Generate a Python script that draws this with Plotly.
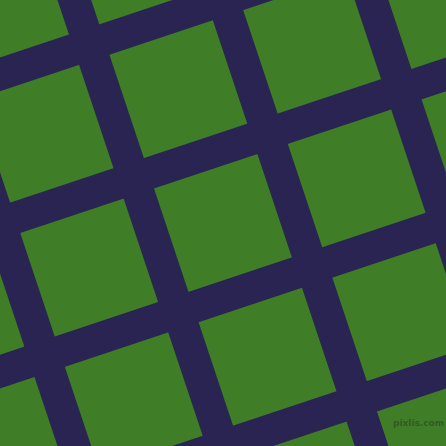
import math
import plotly.graph_objects as go

# Pattern data
grid_angle_deg = 18.435          # rotation of the grid (tan = 1/3)
band_pitch = 141.03               # distance between band centre lines
band_width = 32.0                 # perpendicular band thickness
vertical_band_centres = [-70.5, 70.5, 211.5, 352.5, 493.5]
horizontal_band_centres = [-70.5, 70.5, 211.5, 352.5, 493.5]

green = "#3f7e27"
navy = "#2a2452"

th = math.radians(grid_angle_deg)
c, s = math.cos(th), math.sin(th)
# vertical-ish family: normal n1, direction t1
n1, t1 = (c, -s), (s, c)
# horizontal-ish family: normal n2, direction t2
n2, t2 = (s, c), (c, -s)

def band_polys(centres, n, t):
    xs, ys = [], []
    L = 1200
    h = band_width / 2
    for cc in centres:
        pts = []
        for off, sl in [(-h, -L), (-h, L), (h, L), (h, -L)]:
            d = cc + off
            pts.append((d * n[0] + sl * t[0], d * n[1] + sl * t[1]))
        pts.append(pts[0])
        for px, py in pts:
            xs.append(px); ys.append(py)
        xs.append(None); ys.append(None)
    return xs, ys

fig = go.Figure()
for centres, n, t in [(vertical_band_centres, n1, t1), (horizontal_band_centres, n2, t2)]:
    xs, ys = band_polys(centres, n, t)
    fig.add_trace(go.Scatter(x=xs, y=ys, mode="lines", fill="toself",
                             fillcolor=navy, line=dict(width=0, color=navy),
                             hoverinfo="skip", showlegend=False))

fig.add_annotation(x=418, y=423, xref="x", yref="y", text="<b>pixlis.com</b>",
                   showarrow=False, font=dict(family="DejaVu Sans", size=9, color="#33592a"))

fig.update_layout(width=446, height=446, margin=dict(l=0, r=0, t=0, b=0),
                  paper_bgcolor=green, plot_bgcolor=green,
                  xaxis=dict(range=[0, 446], visible=False, fixedrange=True),
                  yaxis=dict(range=[446, 0], visible=False, fixedrange=True),
                  showlegend=False)
fig.write_html("out.html", config={"displayModeBar": False},
               post_script="document.body.style.margin='0';document.body.style.overflow='hidden';")
